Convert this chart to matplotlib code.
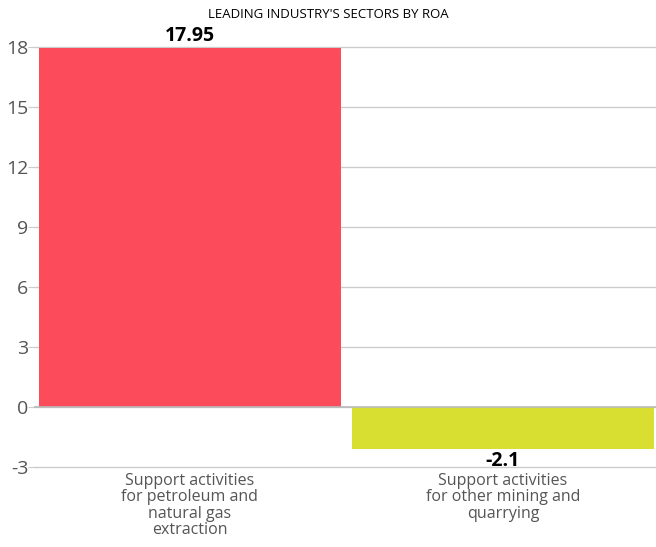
import matplotlib.pyplot as plt
import numpy as np

plt.rcParams['font.family'] = ['Open Sans', 'DejaVu Sans']

title = "LEADING INDUSTRY'S SECTORS BY ROA"
categories = ["Support activities\nfor petroleum and\nnatural gas\nextraction",
              "Support activities\nfor other mining and\nquarrying"]
values = [17.95, -2.1]
labels = ["17.95", "-2.1"]
colors = ["#FC4C5B", "#D9DF31"]
yticks = [-3, 0, 3, 6, 9, 12, 15, 18]


def main():
    fig = plt.figure(figsize=(6.56, 5.47), dpi=100)
    ax = fig.add_axes([34 / 656, 1 - 467 / 547, 622 / 656, 420 / 547])

    x = np.arange(len(values))
    ax.bar(x, values, width=0.965, color=colors, zorder=2)
    ax.set_xlim(-0.498, 1.489)
    ax.set_ylim(-3, 18)

    ax.set_yticks(yticks)
    ax.set_yticklabels([str(t) for t in yticks], fontsize=14, color="#555555")
    ax.tick_params(axis="y", length=4, color="#cccccc", pad=0)
    ax.grid(axis="y", color="#cccccc", linewidth=1, zorder=0)
    for gl in ax.get_ygridlines():
        gl.set_clip_on(False)
    ax.axhline(0, color="#bbbbbb", linewidth=1.2, zorder=3)
    for s in ax.spines.values():
        s.set_visible(False)

    ax.set_xticks(x)
    ax.set_xticklabels(categories, fontsize=11.5, color="#555555", linespacing=1.05)
    ax.tick_params(axis="x", length=0, pad=4)

    for xi, v, lab in zip(x, values, labels):
        if v >= 0:
            ax.text(xi, v + 0.1, lab, ha="center", va="bottom", fontsize=14,
                    fontweight="bold", color="black")
        else:
            ax.text(xi, v - 0.1, lab, ha="center", va="top", fontsize=14,
                    fontweight="bold", color="black")

    fig.text(0.5, 1 - 14 / 547, title, ha="center", va="center", fontsize=9.5, color="black")

    fig.savefig("out.png", dpi=100)


if __name__ == "__main__":
    main()
